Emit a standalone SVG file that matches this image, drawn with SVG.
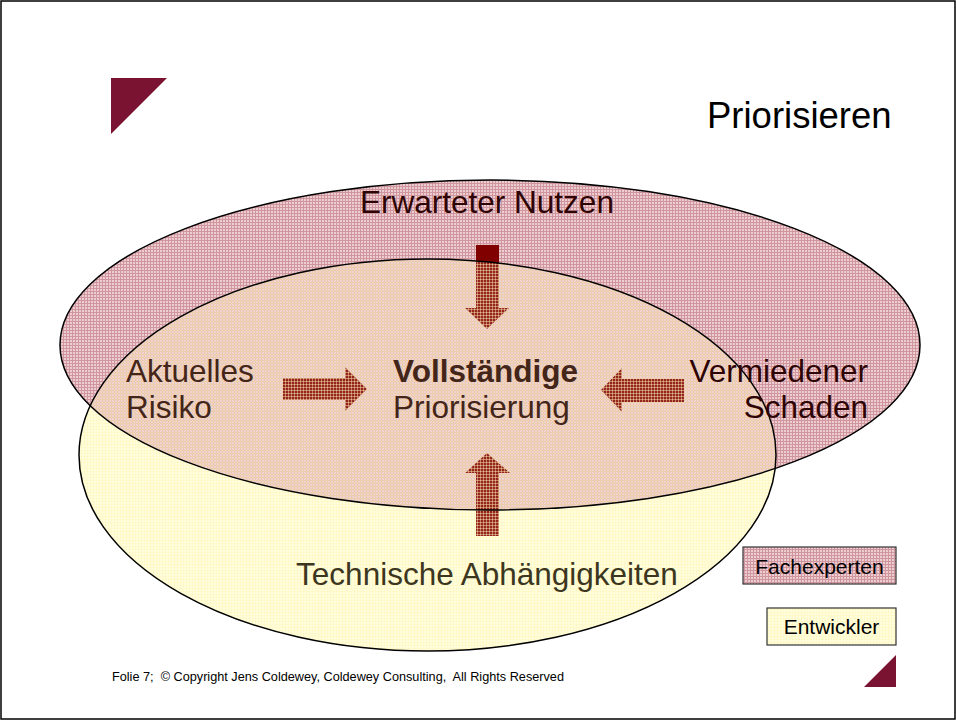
<svg xmlns="http://www.w3.org/2000/svg" width="956" height="720" viewBox="0 0 956 720">
  <defs>
    <pattern id="pinkGrid" width="3" height="3" patternUnits="userSpaceOnUse">
      <rect width="3" height="3" fill="#edcdd1"/>
      <rect width="3" height="1" fill="#d0969d"/>
      <rect width="1" height="3" fill="#d0969d"/>
    </pattern>
    <pattern id="yellowGrid" width="3" height="3" patternUnits="userSpaceOnUse">
      <rect width="3" height="3" fill="#fff4b8" fill-opacity="0.15"/>
      <rect width="3" height="1" fill="#fff4b8" fill-opacity="0.45"/>
      <rect width="1" height="3" fill="#fff4b8" fill-opacity="0.45"/>
    </pattern>
  </defs>
  <style>
    .lbl { font-family: "Liberation Sans", Arial, sans-serif; font-size: 31.5px; fill: #2e0303; }
    .in { fill: #442519; }
    .inY { fill: #3c3620; }
    .bold { font-weight: bold; }
    .arrow { fill: #800000; }
    .outline { fill: none; stroke: #000; stroke-width: 1.5; }
    .legend { font-family: "Liberation Sans", Arial, sans-serif; font-size: 21px; fill: #000; }
    .corner { fill: #7a1232; }
  </style>

  <rect x="0" y="0" width="956" height="720" fill="#fff"/>
  <rect x="1" y="1" width="954" height="718" fill="none" stroke="#000" stroke-width="1.5"/>

  <g id="slide-decor">
    <polygon class="corner" points="111,78 167,78 111,134"/>
    <polygon class="corner" points="896,655 896,687 864,687"/>
    <text x="707" y="128" font-family="Liberation Sans, Arial, sans-serif" font-size="36.5" fill="#000">Priorisieren</text>
    <text x="112" y="681" font-family="Liberation Sans, Arial, sans-serif" font-size="12.7" fill="#000" style="white-space:pre">Folie 7;  © Copyright Jens Coldewey, Coldewey Consulting,  All Rights Reserved</text>
  </g>

  <g id="area-entwickler-base">
    <ellipse cx="427.5" cy="455" rx="348.5" ry="196" fill="#ffffe2"/>
  </g>

  <g id="area-fachexperten">
    <ellipse cx="490" cy="345" rx="430" ry="165" fill="url(#pinkGrid)"/>
  </g>

  <g id="connectors">
    <polygon class="arrow" points="476,245 499,245 499,308 509,308 487,329 465,308 476,308"/>
    <polygon class="arrow" points="283,378 345,378 345,367 367,389 345,411 345,400 283,400"/>
    <polygon class="arrow" points="684,379 622,379 622,368 601,390 622,412 622,402 684,402"/>
    <polygon class="arrow" points="476,536 499,536 499,473 510,473 487,453 465,473 476,473"/>
  </g>

  <g id="area-entwickler">
    <ellipse cx="427.5" cy="455" rx="348.5" ry="196" fill="url(#yellowGrid)"/>
  </g>

  <g id="area-outlines">
    <ellipse class="outline" cx="490" cy="345" rx="430" ry="165"/>
    <ellipse class="outline" cx="427.5" cy="455" rx="348.5" ry="196"/>
  </g>

  <g id="node-erwarteter-nutzen">
    <text class="lbl" x="487" y="213" text-anchor="middle">Erwarteter Nutzen</text>
  </g>
  <g id="node-aktuelles-risiko">
    <text class="lbl in" x="126" y="382">Aktuelles</text>
    <text class="lbl in" x="126" y="418">Risiko</text>
  </g>
  <g id="node-vollstaendige-priorisierung">
    <text class="lbl in bold" x="393" y="382">Vollständige</text>
    <text class="lbl in" x="393" y="418">Priorisierung</text>
  </g>
  <g id="node-vermiedener-schaden">
    <text class="lbl" x="868" y="382" text-anchor="end">Vermiedener</text>
    <text class="lbl" x="868" y="418" text-anchor="end">Schaden</text>
  </g>
  <g id="node-technische-abhaengigkeiten">
    <text class="lbl inY" x="487" y="585" text-anchor="middle">Technische Abhängigkeiten</text>
  </g>

  <g id="legend-fachexperten">
    <rect x="743" y="547" width="153" height="37" fill="url(#pinkGrid)" stroke="#333" stroke-width="1.2"/>
    <text class="legend" x="819.5" y="574" text-anchor="middle">Fachexperten</text>
  </g>
  <g id="legend-entwickler">
    <rect x="767" y="608" width="129" height="37" fill="#ffffe2"/>
    <rect x="767" y="608" width="129" height="37" fill="url(#yellowGrid)" stroke="#333" stroke-width="1.2"/>
    <text class="legend" x="831.5" y="634" text-anchor="middle">Entwickler</text>
  </g>
</svg>
